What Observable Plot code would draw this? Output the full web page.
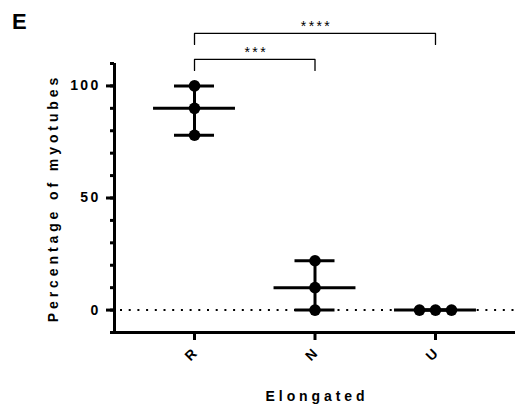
<!DOCTYPE html>
<html><head><meta charset="utf-8">
<script src="https://cdn.jsdelivr.net/npm/d3@7"></script>
<script src="https://cdn.jsdelivr.net/npm/@observablehq/plot@0.6"></script>
<style>
body{margin:0;background:#fff;}
#wrap{position:relative;width:515px;height:408px;}
#panel{position:absolute;left:12px;top:9px;font:bold 22px "Liberation Sans",Arial,sans-serif;color:#000;}
#wrap svg{position:absolute;left:0;top:0;}
svg text{font-family:"Liberation Sans",Arial,sans-serif;font-weight:bold;fill:#000;}
g[aria-label="y-axis tick label"] text{font-size:14px;letter-spacing:2.3px;}
g[aria-label="x-axis tick label"] text{font-size:14px;}
text[aria-label="axis-title"]{font-size:14px;letter-spacing:3.9px;}
text[aria-label="stars"]{font-size:14px;font-weight:normal;letter-spacing:2.4px;}
</style></head><body><div id="wrap"><div id="panel">E</div></div>
<script>
// ---- data ----
const categories = ["R", "N", "U"];
const valuesR = [100, 90, 78];
const valuesN = [22, 10, 0];
const valuesU = [0, 0, 0];
const yMajorTicks = [0, 50, 100];
const yTitle = "Percentage of myotubes";
const xTitle = "Elongated";
const comparisons = [
  {from: "R", to: "N", stars: "***"},
  {from: "R", to: "U", stars: "****"}
];

// ---- layout ----
const W = 515, H = 408;
const xPad = 0.664;               // outer padding in category steps
const dodgeStep = 0.133;          // horizontal spread of tied points
const capHalf = 0.166, medHalf = 0.34;
const bracketLevels = [{top: 111.8, leg: 106.9, text: 114.8}, {top: 123.4, leg: 118.5, text: 126.4}];

const series = [valuesR, valuesN, valuesU];
const points = [];
const stats = [];
series.forEach((vals, i) => {
  const groups = d3.group(vals.map((v, k) => ({v, k})), d => d.v);
  for (const [v, arr] of groups) {
    arr.forEach((d, r) => points.push({i, v, x: i + (r - (arr.length - 1) / 2) * dodgeStep}));
  }
  stats.push({i, min: d3.min(vals), max: d3.max(vals), median: d3.median(vals)});
});

const bracketPts = [];
const starRows = [];
comparisons.forEach((c, j) => {
  const a = categories.indexOf(c.from), b = categories.indexOf(c.to), L = bracketLevels[j];
  bracketPts.push({z: j, x: a, y: L.leg}, {z: j, x: a, y: L.top}, {z: j, x: b, y: L.top}, {z: j, x: b, y: L.leg});
  starRows.push({x: (a + b) / 2, y: L.text, s: c.stars});
});

const minorTicks = d3.range(-10, 111, 10);

const chart = Plot.plot({
  width: W, height: H,
  marginLeft: 114, marginRight: 0, marginTop: 63, marginBottom: 76,
  x: {type: "linear", domain: [-xPad, categories.length - 1 + xPad]},
  y: {domain: [-10, 110]},
  style: {background: "transparent", overflow: "visible"},
  marks: [
    Plot.ruleY([0], {stroke: "#000", strokeWidth: 2, strokeDasharray: "2,6.7", insetLeft: 6}),
    Plot.ruleX(stats, {x: "i", y1: "min", y2: "max", stroke: "#000", strokeWidth: 3}),
    Plot.ruleY(stats, {y: "min", x1: d => d.i - capHalf, x2: d => d.i + capHalf, stroke: "#000", strokeWidth: 3}),
    Plot.ruleY(stats, {y: "max", x1: d => d.i - capHalf, x2: d => d.i + capHalf, stroke: "#000", strokeWidth: 3}),
    Plot.ruleY(stats, {y: "median", x1: d => d.i - medHalf, x2: d => d.i + medHalf, stroke: "#000", strokeWidth: 3}),
    Plot.dot(points, {x: "x", y: "v", r: 5.8, fill: "#000", stroke: "none"}),
    // axes
    Plot.axisY({ticks: minorTicks, tickSize: 4, strokeWidth: 3, text: null, label: null}),
    Plot.axisY({ticks: yMajorTicks, tickSize: 8, strokeWidth: 3, tickPadding: 6, label: null}),
    Plot.axisX({ticks: d3.range(categories.length), tickFormat: i => categories[i], tickRotate: -45,
                tickSize: 8, strokeWidth: 3, tickPadding: 11, label: null}),
    Plot.ruleX([-xPad], {y1: -10, y2: 110, stroke: "#000", strokeWidth: 3}),
    Plot.ruleY([-10], {stroke: "#000", strokeWidth: 3, insetLeft: -1.5}),
    // significance brackets
    Plot.line(bracketPts, {x: "x", y: "y", z: "z", stroke: "#000", strokeWidth: 1.3, curve: "linear"}),
    Plot.text(starRows, {x: "x", y: "y", text: "s", ariaLabel: () => "stars", textAnchor: "middle", lineAnchor: "middle", dx: 1.5}),
    // titles
    Plot.text([yTitle], {frameAnchor: "left", rotate: -90, dx: -61, dy: 0, ariaLabel: () => "axis-title", textAnchor: "middle", lineAnchor: "middle"}),
    Plot.text([xTitle], {frameAnchor: "bottom", dy: 64, dx: 2, ariaLabel: () => "axis-title", textAnchor: "middle", lineAnchor: "middle"})
  ]
});
document.getElementById("wrap").appendChild(chart);
</script>
</body></html>
